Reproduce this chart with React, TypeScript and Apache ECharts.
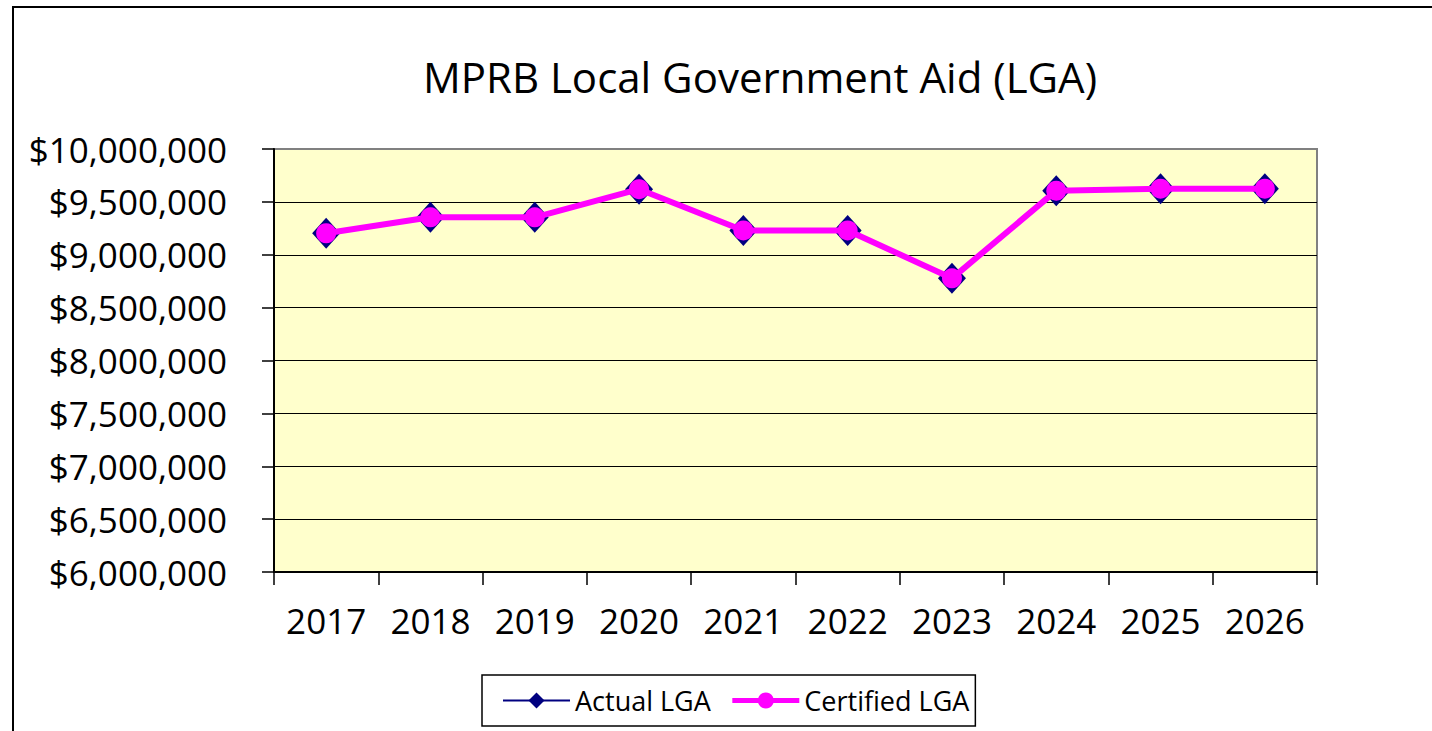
import React, { useEffect, useRef } from "react";
import * as echarts from "echarts";

const years = ["2017", "2018", "2019", "2020", "2021", "2022", "2023", "2024", "2025", "2026"];
const actualLGA = [9203000, 9354000, 9354000, 9620000, 9230000, 9230000, 8777000, 9606000, 9625000, 9625000];
const certifiedLGA = [9203000, 9354000, 9354000, 9620000, 9230000, 9230000, 8777000, 9606000, 9625000, 9625000];
const yMin = 6000000;
const yMax = 10000000;
const yStep = 500000;

const FONT = "Open Sans";

function fmt(v: number): string {
  return "$" + Math.round(v).toString().replace(/\B(?=(\d{3})+(?!\d))/g, ",");
}

export default function App() {
  const ref = useRef<HTMLDivElement>(null);
  useEffect(() => {
    document.body.style.margin = "0";
    const chart = echarts.init(ref.current!, null, { renderer: "svg" });
    chart.setOption({
      animation: false,
      backgroundColor: "#ffffff",
      textStyle: { fontFamily: FONT },
      title: {
        text: "MPRB Local Government Aid (LGA)",
        left: 755,
        textAlign: "center",
        top: 50,
        textStyle: { fontFamily: FONT, fontSize: 42, fontWeight: "normal", color: "#000" },
      },
      graphic: [
        {
          type: "rect",
          shape: { x: 13, y: 7, width: 1600, height: 900 },
          style: { fill: "none", stroke: "#000", lineWidth: 2 },
          silent: true,
        },
      ],
      legend: {
        left: 482,
        top: 675,
        orient: "horizontal",
        borderColor: "#000",
        borderWidth: 1.5,
        padding: [12, 6, 12, 20],
        itemWidth: 67,
        itemHeight: 20,
        itemGap: 19,
        textStyle: { fontFamily: FONT, fontSize: 27, color: "#000" },
        data: [
          { name: "Actual LGA", lineStyle: { width: 2 } },
          { name: "Certified LGA", lineStyle: { width: 5 } },
        ],
      },
      grid: {
        left: 274,
        top: 149,
        right: 115,
        bottom: 159,
        show: true,
        backgroundColor: "#FFFFCC",
        borderColor: "#808080",
        borderWidth: 2,
      },
      xAxis: {
        type: "category",
        data: years,
        boundaryGap: true,
        axisLine: { show: true, lineStyle: { color: "#000", width: 2 } },
        axisTick: { show: true, alignWithLabel: false, length: 13, lineStyle: { color: "#000", width: 1.5 } },
        axisLabel: { margin: 31, fontFamily: FONT, fontSize: 35, color: "#000", interval: 0 },
        splitLine: { show: false },
      },
      yAxis: {
        type: "value",
        min: yMin,
        max: yMax,
        interval: yStep,
        axisLine: { show: true, lineStyle: { color: "#000", width: 2 } },
        axisTick: { show: true, length: 12, lineStyle: { color: "#000", width: 1.5 } },
        axisLabel: {
          margin: 47,
          fontFamily: FONT,
          fontSize: 35,
          color: "#000",
          formatter: (v: number) => fmt(v),
        },
        splitLine: { show: true, showMinLine: false, showMaxLine: false, lineStyle: { color: "#000", width: 1.2 } },
      },
      series: [
        {
          name: "Actual LGA",
          type: "line",
          data: actualLGA,
          symbol: "diamond",
          symbolSize: [28, 31],
          lineStyle: { color: "#000080", width: 2 },
          itemStyle: { color: "#000080", borderWidth: 0 },
          z: 2,
        },
        {
          name: "Certified LGA",
          type: "line",
          data: certifiedLGA,
          symbol: "circle",
          symbolSize: 20,
          lineStyle: { color: "#FF00FF", width: 6 },
          itemStyle: { color: "#FF00FF", borderWidth: 0 },
          z: 3,
        },
      ],
    });
    return () => chart.dispose();
  }, []);
  return <div ref={ref} style={{ width: 1432, height: 731 }} />;
}
